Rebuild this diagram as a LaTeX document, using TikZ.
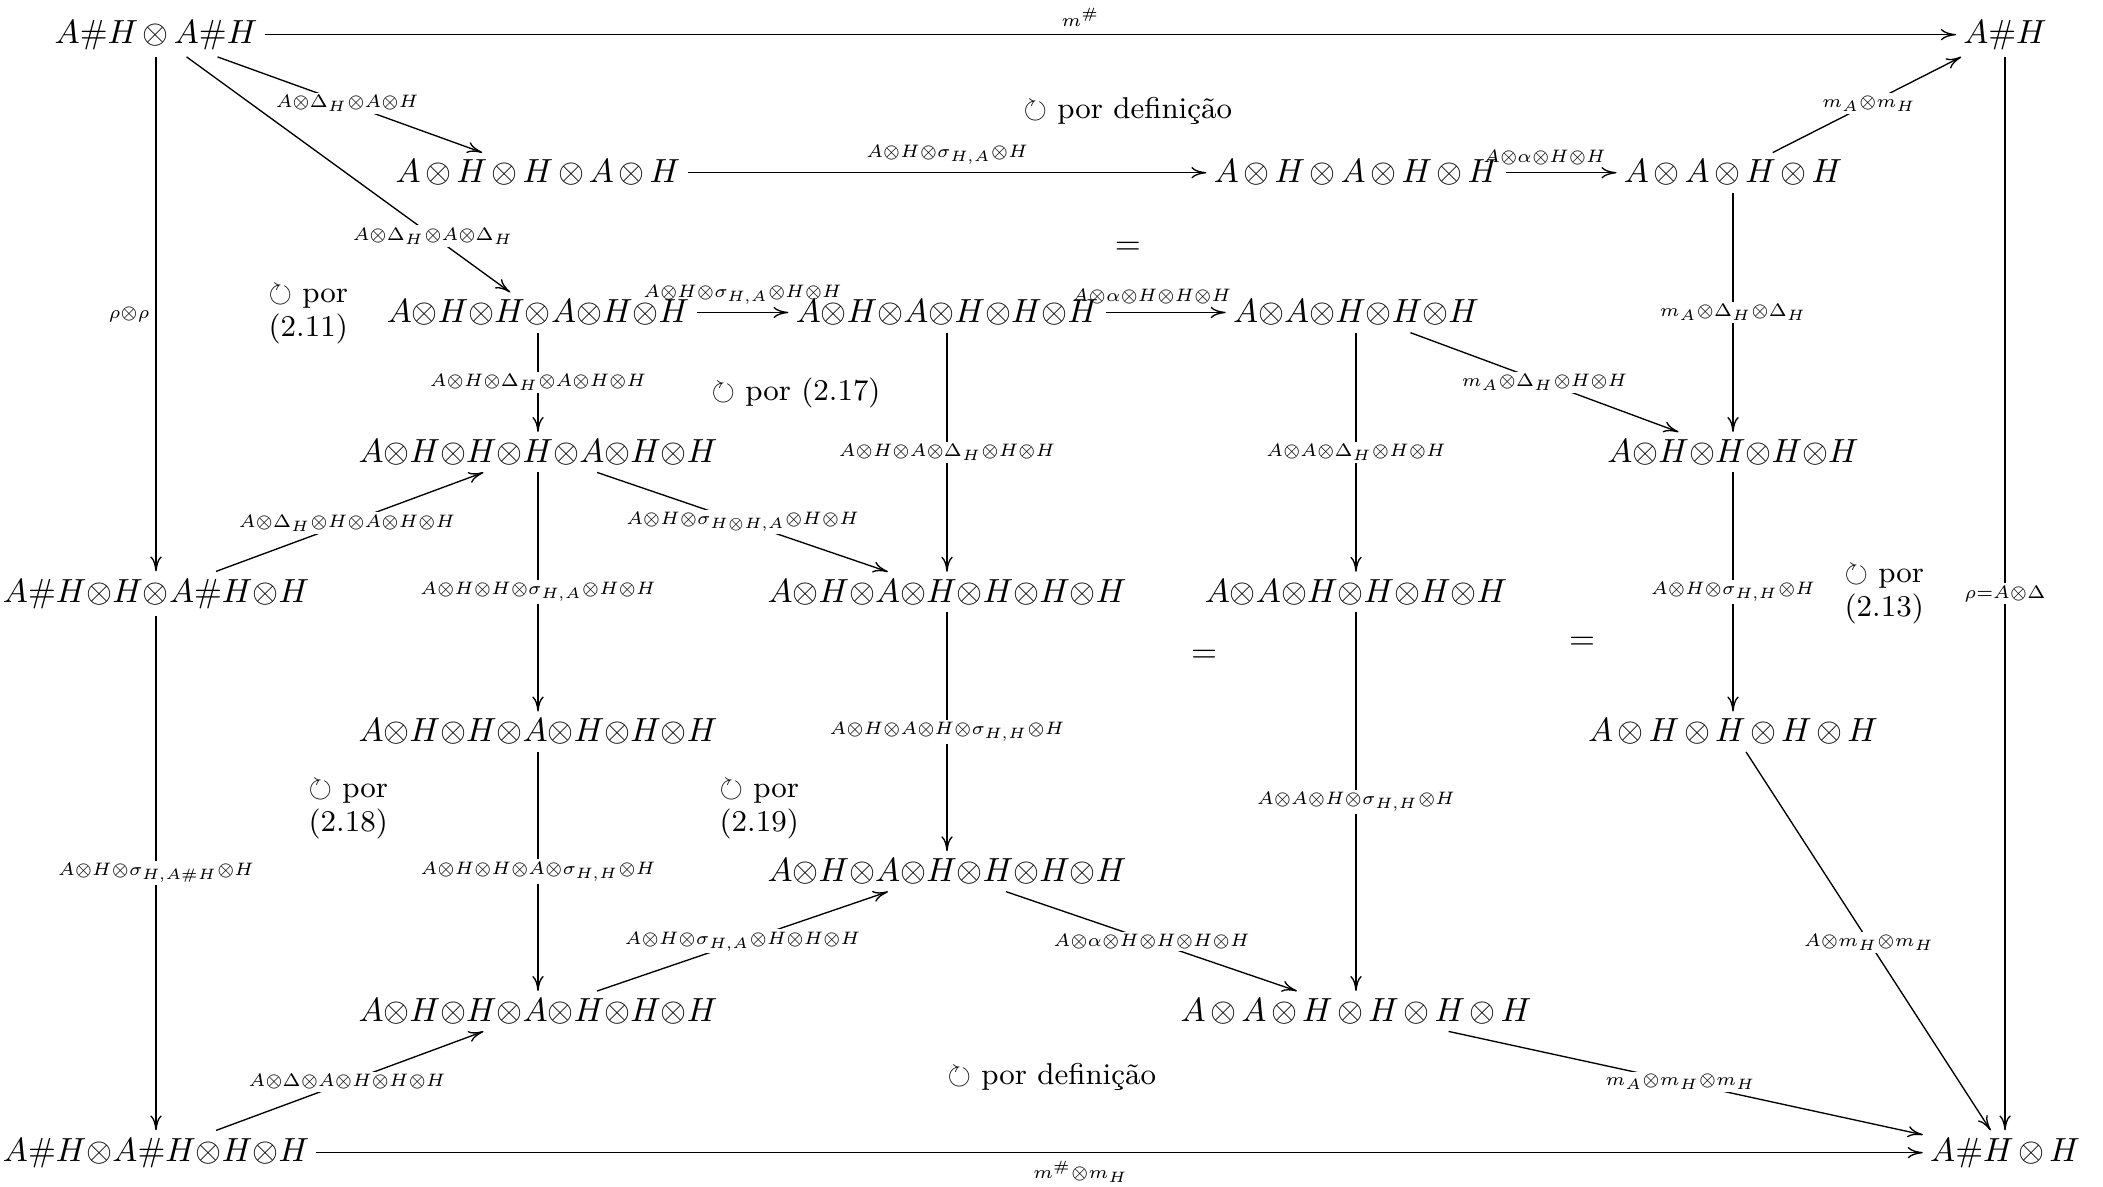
\documentclass[tikz,border=0pt]{standalone}
\usepackage{amssymb}
\usetikzlibrary{arrows.meta,calc}
\newcommand{\lbl}[1]{{\fontsize{6}{7}\selectfont$\medmuskip=0mu\thickmuskip=0mu #1$}}
\newcommand{\porann}[2]{{\fontsize{9}{10.2}\selectfont\begin{tabular}[t]{@{}l@{}}$\circlearrowright$ #1\\#2\end{tabular}}}
\tikzset{
  obj/.style={inner sep=2pt, anchor=base},
  tight/.style={obj, execute at begin node={\medmuskip=0mu}},
  spaced/.style={obj, execute at begin node={\medmuskip=2.6mu}},
  arr/.style={-{To[length=4.5pt,width=3.4pt]}, line width=0.4pt},
  onl/.style={fill=white, inner sep=0.8pt, scale=0.9},
  abv/.style={above, inner sep=2.5pt, scale=0.9},
  blw/.style={below, inner sep=2.5pt, scale=0.9},
  lft/.style={left, inner sep=2pt, scale=0.9},
  ann/.style={inner sep=0pt},
  annt/.style={inner sep=0pt, font=\fontsize{9}{10.2}\selectfont},
}
\begin{document}
\begin{tikzpicture}[x=0.2989pt, y=-0.2989pt]
\useasboundingbox (0,0) rectangle (2103,1186);
% nodes (baselines)
\node[spaced] (n11) at (156,43) {$A\#H \otimes A\#H$};
\node[spaced] (n16) at (2005,43) {$A\#H$};
\node[spaced] (n22) at (538,182.75) {$A\otimes H\otimes H\otimes A\otimes H$};
\node[spaced] (n24) at (1356,182.75) {$A\otimes H\otimes A\otimes H\otimes H$};
\node[spaced] (n25) at (1733,182.75) {$A\otimes A\otimes H\otimes H$};
\node[tight] (n32) at (538,322.5) {$A\otimes H\otimes H\otimes A\otimes H\otimes H$};
\node[tight] (n33) at (947,322.5) {$A\otimes H\otimes A\otimes H\otimes H\otimes H$};
\node[tight] (n34) at (1356,322.5) {$A\otimes A\otimes H\otimes H\otimes H$};
\node[tight] (n42) at (538,462.25) {$A\otimes H\otimes H\otimes H\otimes A\otimes H\otimes H$};
\node[tight] (n45) at (1733,462.25) {$A\otimes H\otimes H\otimes H\otimes H$};
\node[tight] (n51) at (156,602) {$A\#H\otimes H\otimes A\#H\otimes H$};
\node[tight] (n53) at (947,602) {$A\otimes H\otimes A\otimes H\otimes H\otimes H\otimes H$};
\node[tight] (n54) at (1356,602) {$A\otimes A\otimes H\otimes H\otimes H\otimes H$};
\node[tight] (n62) at (538,741.75) {$A\otimes H\otimes H\otimes A\otimes H\otimes H\otimes H$};
\node[spaced] (n65) at (1733,741.75) {$A\otimes H\otimes H\otimes H\otimes H$};
\node[tight] (n73) at (947,881.5) {$A\otimes H\otimes A\otimes H\otimes H\otimes H\otimes H$};
\node[tight] (n82) at (538,1021.25) {$A\otimes H\otimes H\otimes A\otimes H\otimes H\otimes H$};
\node[spaced] (n84) at (1356,1021.25) {$A\otimes A\otimes H\otimes H\otimes H\otimes H$};
\node[tight] (n91) at (156,1161) {$A\#H\otimes A\#H\otimes H\otimes H$};
\node[spaced] (n96) at (2005,1161) {$A\#H\otimes H$};
% annotations
\node[annt, anchor=base west] (a1) at (1023,118) {$\circlearrowright$ por definição};
\node[ann] (e1) at (1128,248) {$=$};
\node[ann, anchor=base west] (a211) at (268,302) {\porann{por}{(2.11)}};
\node[annt, anchor=base west] (a217) at (711,400) {$\circlearrowright$ por (2.17)};
\node[ann] (e2) at (1204,656) {$=$};
\node[ann] (e3) at (1582,643) {$=$};
\node[ann, anchor=base west] (a213) at (1844,582) {\porann{por}{(2.13)}};
\node[ann, anchor=base west] (a218) at (308,797) {\porann{por}{(2.18)}};
\node[ann, anchor=base west] (a219) at (719,797) {\porann{por}{(2.19)}};
\node[annt, anchor=base west] (a2) at (947,1084) {$\circlearrowright$ por definição};
% edges
\draw[arr] (n11) -- (n16) node[abv] at ($(n11)!.5!(n16)$) {\lbl{m^{\#}}};
\draw[arr] (n11) -- (n22) node[onl] at ($(n11)!.5!(n22)$) {\lbl{A\otimes\Delta_H\otimes A\otimes H}};
\draw[arr] (n11) -- (n32) node[onl] at ($(n11)!.725!(n32)$) {\lbl{A\otimes\Delta_H\otimes A\otimes\Delta_H}};
\draw[arr] (n11) -- (n51) node[lft] at ($(n11)!.5!(n51)$) {\lbl{\rho\otimes\rho}};
\draw[arr] (n22) -- (n24) node[abv] at ($(n22)!.5!(n24)$) {\lbl{A\otimes H\otimes\sigma_{H,A}\otimes H}};
\draw[arr] (n24) -- (n25) node[abv] at ($(n24)!.5!(n25)$) {\lbl{A\otimes\alpha\otimes H\otimes H}};
\draw[arr] (n25) -- (n16) node[onl] at ($(n25)!.5!(n16)$) {\lbl{m_A\otimes m_H}};
\draw[arr] (n25) -- (n45) node[onl] at ($(n25)!.5!(n45)$) {\lbl{m_A\otimes\Delta_H\otimes\Delta_H}};
\draw[arr] (n16) -- (n96) node[onl] at ($(n16)!.5!(n96)$) {\lbl{\rho=A\otimes\Delta}};
\draw[arr] (n32) -- (n33) node[abv] at ($(n32)!.5!(n33)$) {\lbl{A\otimes H\otimes\sigma_{H,A}\otimes H\otimes H}};
\draw[arr] (n33) -- (n34) node[abv] at ($(n33)!.5!(n34)$) {\lbl{A\otimes\alpha\otimes H\otimes H\otimes H}};
\draw[arr] (n32) -- (n42) node[onl] at ($(n32)!.5!(n42)$) {\lbl{A\otimes H\otimes\Delta_H\otimes A\otimes H\otimes H}};
\draw[arr] (n33) -- (n53) node[onl] at ($(n33)!.5!(n53)$) {\lbl{A\otimes H\otimes A\otimes\Delta_H\otimes H\otimes H}};
\draw[arr] (n34) -- (n54) node[onl] at ($(n34)!.5!(n54)$) {\lbl{A\otimes A\otimes\Delta_H\otimes H\otimes H}};
\draw[arr] (n34) -- (n45) node[onl] at ($(n34)!.5!(n45)$) {\lbl{m_A\otimes\Delta_H\otimes H\otimes H}};
\draw[arr] (n51) -- (n42) node[onl] at ($(n51)!.5!(n42)$) {\lbl{A\otimes\Delta_H\otimes H\otimes A\otimes H\otimes H}};
\draw[arr] (n42) -- (n62) node[onl] at ($(n42)!.5!(n62)$) {\lbl{A\otimes H\otimes H\otimes\sigma_{H,A}\otimes H\otimes H}};
\draw[arr] (n42) -- (n53) node[onl] at ($(n42)!.5!(n53)$) {\lbl{A\otimes H\otimes\sigma_{H\otimes H,A}\otimes H\otimes H}};
\draw[arr] (n45) -- (n65) node[onl] at ($(n45)!.5!(n65)$) {\lbl{A\otimes H\otimes\sigma_{H,H}\otimes H}};
\draw[arr] (n53) -- (n73) node[onl] at ($(n53)!.5!(n73)$) {\lbl{A\otimes H\otimes A\otimes H\otimes\sigma_{H,H}\otimes H}};
\draw[arr] (n54) -- (n84) node[onl] at ($(n54)!.5!(n84)$) {\lbl{A\otimes A\otimes H\otimes\sigma_{H,H}\otimes H}};
\draw[arr] (n51) -- (n91) node[onl] at ($(n51)!.5!(n91)$) {\lbl{A\otimes H\otimes\sigma_{H,A\#H}\otimes H}};
\draw[arr] (n62) -- (n82) node[onl] at ($(n62)!.5!(n82)$) {\lbl{A\otimes H\otimes H\otimes A\otimes\sigma_{H,H}\otimes H}};
\draw[arr] (n82) -- (n73) node[onl] at ($(n82)!.5!(n73)$) {\lbl{A\otimes H\otimes\sigma_{H,A}\otimes H\otimes H\otimes H}};
\draw[arr] (n73) -- (n84) node[onl] at ($(n73)!.5!(n84)$) {\lbl{A\otimes\alpha\otimes H\otimes H\otimes H\otimes H}};
\draw[arr] (n91) -- (n82) node[onl] at ($(n91)!.5!(n82)$) {\lbl{A\otimes\Delta\otimes A\otimes H\otimes H\otimes H}};
\draw[arr] (n91) -- (n96) node[blw] at ($(n91)!.5!(n96)$) {\lbl{m^{\#}\otimes m_H}};
\draw[arr] (n84) -- (n96) node[onl] at ($(n84)!.5!(n96)$) {\lbl{m_A\otimes m_H\otimes m_H}};
\draw[arr] (n65) -- (n96) node[onl] at ($(n65)!.5!(n96)$) {\lbl{A\otimes m_H\otimes m_H}};
\end{tikzpicture}
\end{document}
